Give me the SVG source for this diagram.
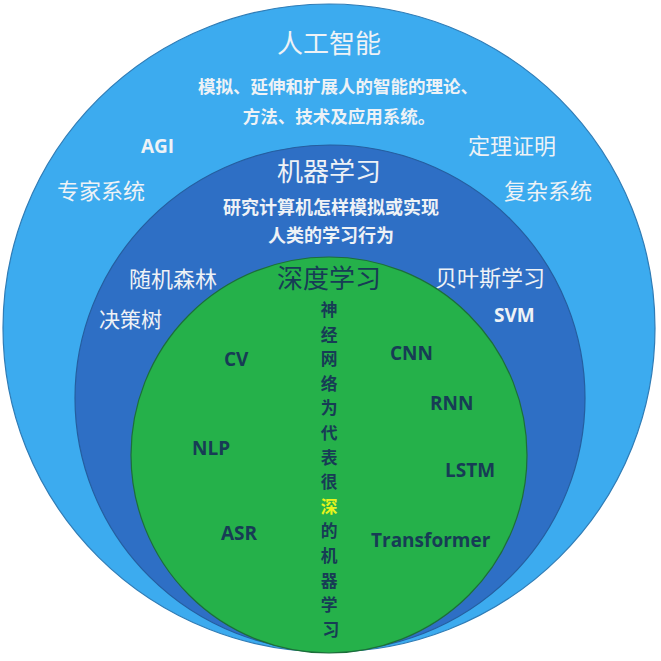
<svg xmlns="http://www.w3.org/2000/svg" width="661" height="661" viewBox="0 0 661 661">
<style>
.cjk{font-family:"Noto Sans CJK SC","Noto Sans",sans-serif}
.lat{font-family:"Open Sans","Liberation Sans",sans-serif;font-weight:700;font-size:19px}
.w{fill:#EEF2F6}
.d{fill:#173C55}
.t1{font-size:26px}
.sub{font-size:17.5px;font-weight:700}
.it{font-size:22px}
.col{font-size:16.8px;font-weight:700}
</style>
<rect width="661" height="661" fill="#ffffff"/>
<g id="ai">
<ellipse cx="329" cy="328" rx="326" ry="324" fill="#3CABEF" stroke="#2F7CB6" stroke-width="1.2"/>
<text class="cjk w t1" x="329" y="53" text-anchor="middle">人工智能</text>
<text class="cjk w sub" x="338" y="93" text-anchor="middle">模拟、延伸和扩展人的智能的理论、</text>
<text class="cjk w sub" x="339" y="123" text-anchor="middle">方法、技术及应用系统。</text>
</g>
<g id="ai-items">
<text class="lat w" x="141" y="153">AGI</text>
<text class="cjk w it" x="468" y="154">定理证明</text>
<text class="cjk w it" x="57" y="199">专家系统</text>
<text class="cjk w it" x="504" y="199">复杂系统</text>
</g>
<g id="ml">
<ellipse cx="330" cy="398" rx="255" ry="253" fill="#2E6FC5" stroke="#255E9F" stroke-width="1.2"/>
<text class="cjk w t1" x="329" y="181" text-anchor="middle">机器学习</text>
<text class="cjk w" x="331" y="214" text-anchor="middle" font-size="18" font-weight="700">研究计算机怎样模拟或实现</text>
<text class="cjk w" x="331" y="242" text-anchor="middle" font-size="18" font-weight="700">人类的学习行为</text>
</g>
<g id="ml-items">
<text class="cjk w it" x="129" y="287">随机森林</text>
<text class="cjk w it" x="435" y="286">贝叶斯学习</text>
<text class="cjk w" x="99" y="327" font-size="21">决策树</text>
<text class="lat w" x="494" y="322" font-size="20">SVM</text>
</g>
<g id="dl">
<ellipse cx="329" cy="455" rx="198" ry="198" fill="#25B14A" stroke="#1D6E3A" stroke-width="1.2"/>
<text class="cjk d t1" x="329" y="288" text-anchor="middle">深度学习</text>
<text class="cjk d col" text-anchor="middle">
<tspan x="331" y="316">神</tspan>
<tspan x="331" y="340.6">经</tspan>
<tspan x="331" y="365.2">网</tspan>
<tspan x="331" y="389.8">络</tspan>
<tspan x="331" y="414.4">为</tspan>
<tspan x="331" y="439">代</tspan>
<tspan x="331" y="463.6">表</tspan>
<tspan x="331" y="488.2">很</tspan>
<tspan x="331" y="512.8" fill="#E8F41C">深</tspan>
<tspan x="331" y="537.4">的</tspan>
<tspan x="331" y="562">机</tspan>
<tspan x="331" y="586.6">器</tspan>
<tspan x="331" y="611.2">学</tspan>
<tspan x="331" y="635.8">习</tspan>
</text>
</g>
<g id="dl-items">
<text class="lat d" x="224" y="366">CV</text>
<text class="lat d" x="390" y="360">CNN</text>
<text class="lat d" x="430" y="410">RNN</text>
<text class="lat d" x="192" y="455">NLP</text>
<text class="lat d" x="445" y="477">LSTM</text>
<text class="lat d" x="221" y="540">ASR</text>
<text class="lat d" x="371" y="547">Transformer</text>
</g>
</svg>
